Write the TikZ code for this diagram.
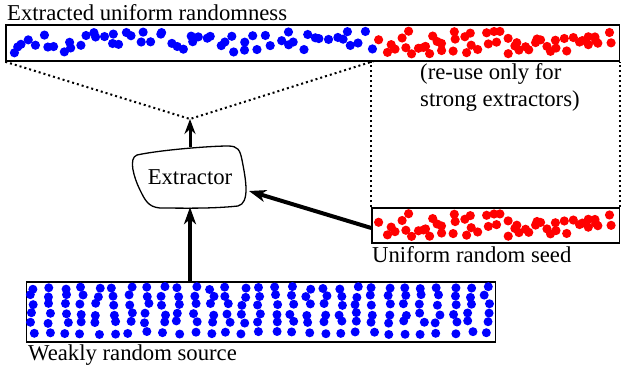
\documentclass[tikz,border=0pt]{standalone}
\usepackage{fontspec}
\setmainfont{Liberation Serif}
\usetikzlibrary{arrows.meta,calc}
\begin{document}
\begin{tikzpicture}[x=1pt,y=-1pt,
  box/.style={draw,line width=1.5pt,rectangle,inner sep=0pt},
  lbl/.style={inner sep=0pt,font=\fontsize{22.7}{26}\selectfont},
  dotline/.style={line width=2pt,dash pattern=on 2pt off 3pt},
  bigarrow/.style={line width=4pt,-{Stealth[length=17pt,width=12pt,inset=5pt]}},
  midarrow/.style={line width=3pt,-{Stealth[length=15pt,width=11pt,inset=5pt]}},
  bdot/.style={fill=blue},
  rdot/.style={fill=red}]
\useasboundingbox (0,0) rectangle (621,369);
% boxes
\node[box,minimum width=613.5pt,minimum height=36pt] (top) at (312.75,43) {};
\node[box,minimum width=247.5pt,minimum height=35pt] (seed) at (495.75,225.5) {};
\node[box,minimum width=469pt,minimum height=60pt] (weak) at (261,312) {};
\node[inner sep=0pt,minimum width=114pt,minimum height=60pt] (ext) at (190,177) {};
\node[lbl] (extlbl) at (ext.center) {Extractor};
% extractor outline
\draw[line width=1.3pt] (137,155) .. controls (160,150) and (210,146) .. (228,146)
  .. controls (238,146) and (240,150) .. (242,160)
  .. controls (246,180) and (250,203) .. (238,206)
  .. controls (210,209) and (180,208) .. (160,208)
  .. controls (148,207) and (145,200) .. (140,190)
  .. controls (134,178) and (128,158) .. (137,155) -- cycle;
% dots: top blue
\pgfmathsetseed{11}
\foreach \k in {0,...,59}{
  \pgfmathsetmacro{\xx}{13+\k*6.05+(rnd-0.5)*9}
  \pgfmathsetmacro{\yy}{31+rnd*23}
  \fill[bdot] (\xx,\yy) circle[radius=4.6pt];
}
% top red
\pgfmathsetseed{23}
\foreach \k in {0,...,54}{
  \pgfmathsetmacro{\xx}{383+\k*4.2+(rnd-0.5)*9}
  \pgfmathsetmacro{\yy}{31+rnd*23}
  \fill[rdot] (\xx,\yy) circle[radius=4.6pt];
}
% seed red (same pattern)
\pgfmathsetseed{23}
\begin{scope}[yshift=-182.5pt]
\foreach \k in {0,...,54}{
  \pgfmathsetmacro{\xx}{383+\k*4.2+(rnd-0.5)*9}
  \pgfmathsetmacro{\yy}{31+rnd*23}
  \fill[rdot] (\xx,\yy) circle[radius=4.6pt];
}
\end{scope}
% weak source dots
\pgfmathsetseed{5}
\foreach \i in {0,...,28}{
  \foreach \r in {288,296,304,314,322,333}{
    \pgfmathsetmacro{\xx}{33+\i*16.2+(rnd-0.5)*6}
    \pgfmathsetmacro{\yy}{\r+(rnd-0.5)*3}
    \fill[bdot] (\xx,\yy) circle[radius=4.5pt];
  }
}
% labels
\node[lbl,anchor=base west] (l1) at (7,21) {Extracted uniform randomness};
\node[lbl,anchor=base west] (l2) at (372,262) {Uniform random seed};
\node[lbl,anchor=base west] (l3) at (28,360) {Weakly random source};
\node[lbl,anchor=north west,align=left] (l4) at (420,63) {(re-use only for\\[1pt]strong extractors)};
% dotted connectors
\coordinate (apex) at (190,119);
\coordinate (tr) at (374,61);
\draw[dotline] (top.south west) -- (apex) -- (tr);
\draw[dotline] (seed.north west) -- (seed.north west |- top.south);
\draw[dotline] (seed.north east) -- (seed.north east |- top.south);
% arrows
\coordinate (extin) at (249,191);
\draw[midarrow] (ext.north) -- (apex);
\draw[bigarrow] (ext.south |- weak.north) -- (ext.south);
\draw[bigarrow] ($(seed.west)+(0,2.5)$) -- (extin);
\end{tikzpicture}
\end{document}
